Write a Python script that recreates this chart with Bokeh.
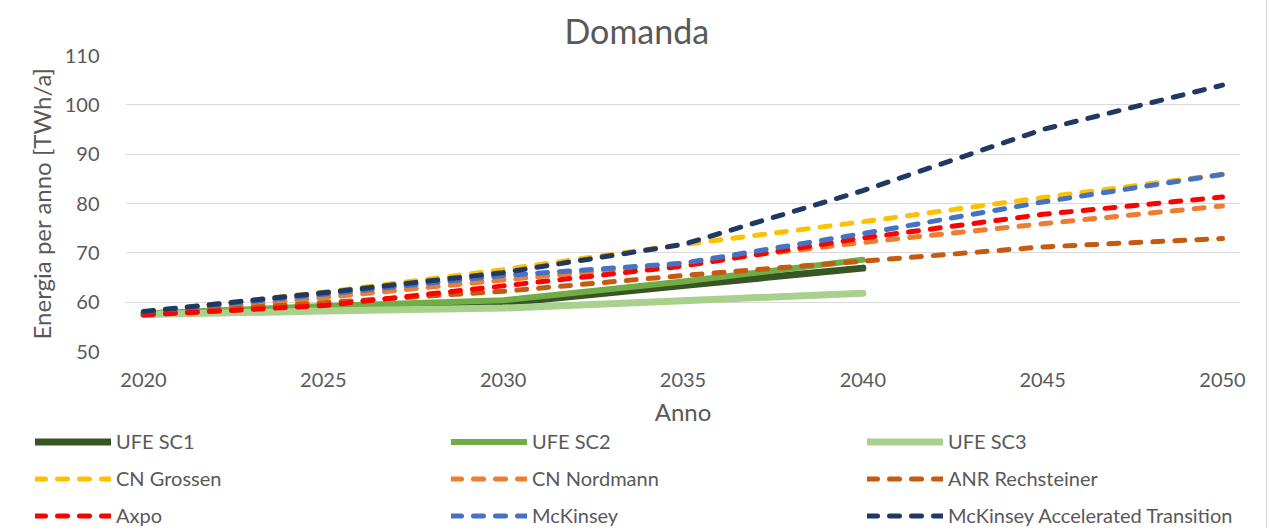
from bokeh.plotting import figure
from bokeh.models import Legend, LegendItem, FixedTicker, Range1d
from bokeh.embed import file_html
from bokeh.resources import INLINE

# ---- data ----
years_ufe = [2020, 2025, 2030, 2035, 2040]
years = [2020, 2025, 2030, 2035, 2040, 2045, 2050]

ufe_sc1 = [57.6, 58.8, 59.8, 63.4, 66.9]
ufe_sc2 = [57.7, 59.2, 60.4, 64.2, 68.6]
ufe_sc3 = [57.5, 58.2, 58.8, 60.3, 61.8]
cn_grossen = [58.0, 62.0, 66.6, 71.7, 76.3, 81.2, 85.9]
cn_nordmann = [57.6, 60.9, 64.5, 67.9, 72.1, 75.9, 79.5]
anr_rechsteiner = [57.5, 59.9, 62.2, 65.4, 68.3, 71.2, 72.9]
axpo = [57.4, 59.3, 63.3, 67.3, 73.0, 77.8, 81.3]
mckinsey = [58.0, 61.6, 65.4, 67.9, 73.9, 80.3, 85.9]
mckinsey_at = [58.1, 61.9, 66.0, 71.7, 82.6, 95.0, 104.0]

x_ticks = [2020, 2025, 2030, 2035, 2040, 2045, 2050]
y_ticks = [50, 60, 70, 80, 90, 100, 110]

series = [
    ("UFE SC1", years_ufe, ufe_sc1, "#375623", 7, "solid"),
    ("UFE SC2", years_ufe, ufe_sc2, "#70AD47", 6, "solid"),
    ("UFE SC3", years_ufe, ufe_sc3, "#A9D18E", 7, "solid"),
    ("CN Grossen", years, cn_grossen, "#FFC000", 5, "10 12"),
    ("CN Nordmann", years, cn_nordmann, "#ED7D31", 5, "10 12"),
    ("ANR Rechsteiner", years, anr_rechsteiner, "#C55A11", 5, "10 12"),
    ("Axpo", years, axpo, "#FF0000", 5, "10 12"),
    ("McKinsey", years, mckinsey, "#4472C4", 5, "10 12"),
    ("McKinsey Accelerated Transition", years, mckinsey_at, "#203864", 5, "10 12"),
]

FONT = "Lato"
GREY = "#595959"
BORDER = "#d9d9d9"

# ---- main chart ----
p = figure(width=1266, height=430, output_backend="svg", toolbar_location=None,
           x_range=Range1d(2019.5, 2050.5), y_range=Range1d(50, 110),
           min_border_left=125, min_border_right=26, min_border_top=55,
           min_border_bottom=79, title="Domanda")

p.outline_line_color = None
p.background_fill_color = "white"
p.border_fill_color = "white"
p.styles = {"box-shadow": f"-1px 0 0 0 {BORDER}, 1px 0 0 0 {BORDER}, 0 -1px 0 0 {BORDER}"}

p.title.text_font = FONT
p.title.text_font_size = "34px"
p.title.text_font_style = "normal"
p.title.text_color = GREY
p.title.text_line_height = 1.0
p.title.align = "left"
p.title.offset = 439
p.title.standoff = 10

p.xgrid.visible = False
p.ygrid.grid_line_color = BORDER
p.ygrid.grid_line_width = 1

p.xaxis.ticker = FixedTicker(ticks=x_ticks)
p.yaxis.ticker = FixedTicker(ticks=y_ticks)
for ax in (p.xaxis[0], p.yaxis[0]):
    ax.axis_line_color = None
    ax.major_tick_line_color = None
    ax.minor_tick_line_color = None
    ax.major_label_text_font = FONT
    ax.major_label_text_font_size = "20px"
    ax.major_label_text_color = GREY
    ax.axis_label_text_font = FONT
    ax.axis_label_text_font_size = "24px"
    ax.axis_label_text_font_style = "normal"
    ax.axis_label_text_color = GREY

p.xaxis.axis_label = "Anno"
p.xaxis.major_label_standoff = 15
p.xaxis.axis_label_standoff = 7
p.yaxis.axis_label = "Energia per anno [TWh/a]"
p.yaxis.major_label_standoff = 20
p.yaxis.axis_label_standoff = 6

for name, xs, ys, color, w, dash in series:
    p.line(xs, ys, line_color=color, line_width=w, line_dash=dash,
           line_cap="round", line_join="round")

# ---- legend strip: its own frame spans the full width, so nothing is clipped ----
lg = figure(width=1266, height=98, output_backend="svg", toolbar_location=None,
            x_axis_type=None, y_axis_type=None,
            x_range=Range1d(0, 1), y_range=Range1d(0, 1),
            min_border_left=0, min_border_right=0, min_border_top=0,
            min_border_bottom=0)
lg.grid.visible = False
lg.outline_line_color = None
lg.background_fill_color = "white"
lg.border_fill_color = "white"
lg.styles = {"box-shadow": f"-1px 0 0 0 {BORDER}, 1px 0 0 0 {BORDER}"}

items = []
for name, xs, ys, color, w, dash in series:
    # same series, but outside this strip's ranges: only the legend key shows
    r = lg.line(xs, ys, line_color=color, line_width=w, line_dash=dash,
                line_cap="round", line_join="round")
    items.append(LegendItem(label=name, renderers=[r]))

legend = Legend(items=items, orientation="horizontal", ncols=3,
                location=(35, 1), padding=0, margin=0, spacing=13,
                glyph_width=76, glyph_height=23, label_height=23,
                label_standoff=5, label_width=322,
                label_text_font=FONT, label_text_font_size="20px",
                label_text_color=GREY, border_line_color=None,
                background_fill_alpha=0)
lg.add_layout(legend, "center")

open("out.html", "w").write(file_html([p, lg], INLINE))
